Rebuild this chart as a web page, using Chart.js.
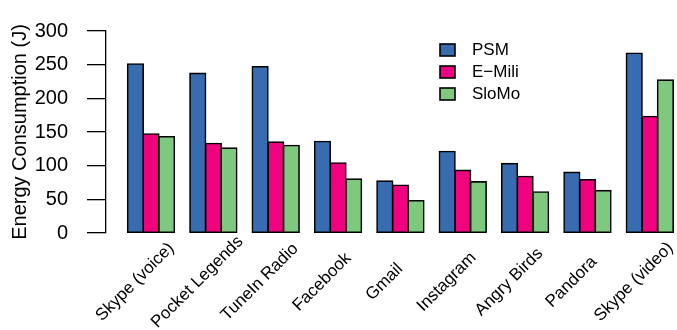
<!DOCTYPE html>
<html>
<head>
<meta charset="utf-8">
<script src="https://cdn.jsdelivr.net/npm/chart.js@4"></script>
<style>
  html, body { margin: 0; padding: 0; background: #fff; overflow: hidden; }
  canvas { display: block; }
</style>
</head>
<body>
<canvas id="myChart" width="677" height="330"></canvas>
<script>
const categories = ['Skype (voice)', 'Pocket Legends', 'TuneIn Radio', 'Facebook', 'Gmail', 'Instagram', 'Angry Birds', 'Pandora', 'Skype (video)'];
const psm = [251, 237, 247, 136, 77, 121, 103, 90, 267];
const eMili = [147, 133, 135, 104, 71, 93, 84, 79, 173];
const sloMo = [143, 126, 130, 80, 48, 76, 61, 63, 227];
const yTicks = [0, 50, 100, 150, 200, 250, 300];

const FONT = 'Liberation Sans';

function points(values) {
    return values.map((v, i) => ({x: i, y: v}));
}

// group names, centred a little left of each group and turned 45 degrees
const categoryLabels = {
    id: 'categoryLabels',
    afterDraw(chart) {
        const ctx = chart.ctx;
        const x = chart.scales.x;
        ctx.save();
        ctx.font = '17px "' + FONT + '"';
        ctx.fillStyle = '#000';
        ctx.textAlign = 'center';
        ctx.textBaseline = 'middle';
        categories.forEach((name, i) => {
            ctx.save();
            ctx.translate(x.getPixelForValue(i) - 16, 282);
            ctx.rotate(-Math.PI / 4);
            ctx.fillText(name, 0, 0);
            ctx.restore();
        });
        ctx.restore();
    }
};

// R style legend sitting inside the plot
const boxLegend = {
    id: 'boxLegend',
    afterDraw(chart) {
        const ctx = chart.ctx;
        ctx.save();
        ctx.font = '17px "' + FONT + '"';
        ctx.textBaseline = 'middle';
        ctx.lineWidth = 1.6;
        chart.data.datasets.forEach((ds, i) => {
            const y = 50 + i * 22;
            ctx.fillStyle = ds.backgroundColor;
            ctx.fillRect(440, y - 6, 15, 12);
            ctx.strokeStyle = '#000';
            ctx.strokeRect(440, y - 6, 15, 12);
            ctx.fillStyle = '#000';
            ctx.fillText(ds.label, 472, y);
        });
        ctx.restore();
    }
};

const ctx = document.getElementById('myChart').getContext('2d');
const myChart = new Chart(ctx, {
    type: 'bar',
    data: {
        datasets: [
            {label: 'PSM', data: points(psm), backgroundColor: '#386CB0'},
            {label: 'E\u2212Mili', data: points(eMili), backgroundColor: '#F0027F'},
            {label: 'SloMo', data: points(sloMo), backgroundColor: '#7FC97F'}
        ]
    },
    options: {
        responsive: false,
        animation: false,
        devicePixelRatio: 1,
        datasets: {
            bar: {
                categoryPercentage: 0.75,
                barPercentage: 1
            }
        },
        elements: {
            bar: {
                borderColor: '#000',
                borderWidth: 1.6,
                borderSkipped: false,
                inflateAmount: 0.8
            }
        },
        layout: {
            padding: {top: 13, bottom: 97, left: 0, right: 0}
        },
        plugins: {
            legend: {display: false},
            tooltip: {enabled: false}
        },
        scales: {
            x: {
                type: 'linear',
                display: false,
                offset: false,
                min: -0.7217,
                max: 8.436,
                afterBuildTicks: s => { s.ticks = categories.map((c, i) => ({value: i})); }
            },
            y: {
                min: 0,
                max: 300,
                afterBuildTicks: s => { s.ticks = yTicks.map(v => ({value: v})); },
                afterFit: s => { s.width = 106; },
                border: {display: true, color: '#000', width: 1.3},
                grid: {
                    drawOnChartArea: false,
                    drawTicks: true,
                    tickLength: 19,
                    color: '#000',
                    lineWidth: 1.3
                },
                ticks: {
                    font: {family: FONT, size: 20},
                    color: '#000',
                    padding: 19
                },
                title: {
                    display: true,
                    text: 'Energy Consumption (J)',
                    font: {family: FONT, size: 20},
                    color: '#000',
                    padding: {top: 8, bottom: 0}
                }
            }
        }
    },
    plugins: [categoryLabels, boxLegend]
});
</script>
</body>
</html>
